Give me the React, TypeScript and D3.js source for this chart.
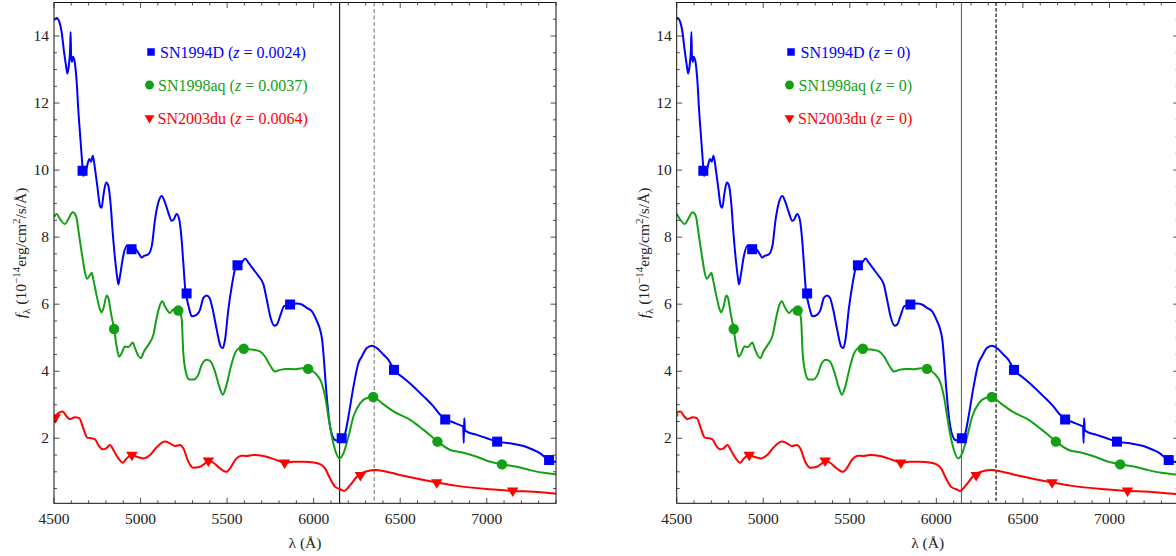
import React from 'react';
import * as d3 from 'd3';

// ---------- spectra (observed wavelength in Å, flux in 1e-14 erg/cm²/s/Å) ----------
const lambda94D = [
  4500, 4515, 4531, 4544, 4558, 4569, 4577, 4586, 4593, 4596, 4599, 4604, 4610, 4621, 4631, 4640,
  4654, 4664, 4669, 4689, 4704, 4714, 4724, 4737, 4750, 4766, 4775, 4785, 4801, 4814, 4828, 4839,
  4853, 4865, 4872, 4880, 4900, 4920, 4948, 4958, 4987, 5007, 5020, 5045, 5065, 5084, 5103, 5122,
  5141, 5160, 5180, 5193, 5208, 5223, 5237, 5247, 5260, 5270, 5282, 5296, 5325, 5344, 5363, 5382,
  5398, 5417, 5440, 5463, 5475, 5488, 5507, 5527, 5546, 5565, 5585, 5604, 5623, 5652, 5681, 5710,
  5729, 5749, 5772, 5787, 5806, 5829, 5864, 5903, 5931, 5960, 5989, 6018, 6037, 6050, 6060, 6070,
  6080, 6095, 6110, 6124, 6145, 6163, 6182, 6201, 6230, 6259, 6278, 6307, 6336, 6365, 6404, 6432,
  6465, 6519, 6577, 6635, 6692, 6731, 6760, 6808, 6856, 6864, 6867, 6870, 6874, 6885, 6943, 7001,
  7062, 7136, 7213, 7271, 7309, 7358, 7396, 7460,
];
const flux94D = [
  14.47, 14.54, 14.42, 14.12, 13.53, 13.13, 12.88, 13.13, 13.6, 14.12, 13.4, 13.23, 13.38, 13.18, 12.63, 11.83,
  10.83, 10.13, 9.83, 10.08, 10.33, 10.25, 10.43, 10.03, 9.53, 8.93, 8.88, 9.23, 9.63, 9.53, 8.93, 8.14,
  7.34, 6.8, 6.59, 6.8, 7.44, 7.74, 7.64, 7.69, 7.54, 7.39, 7.44, 7.49, 7.74, 8.54, 9.04, 9.23,
  9.04, 8.74, 8.49, 8.54, 8.69, 8.54, 7.94, 7.24, 6.35, 6.1, 5.84, 5.64, 5.69, 5.84, 6.19, 6.26,
  6.19, 5.84, 5.24, 4.74, 4.69, 4.94, 5.84, 6.54, 7.04, 7.16, 7.24, 7.36, 7.24, 7.04, 6.84, 6.59,
  6.14, 5.64, 5.36, 5.39, 5.64, 5.94, 5.99, 6.02, 5.99, 5.89, 5.79, 5.5, 5.24, 4.9, 4.3, 3.6,
  3.0, 2.35, 2.05, 1.95, 1.93, 2.0, 2.15, 2.65, 3.54, 4.25, 4.44, 4.69, 4.76, 4.69, 4.49, 4.34,
  4.04, 3.8, 3.54, 3.25, 2.95, 2.7, 2.57, 2.47, 2.37, 2.35, 1.86, 2.6, 2.25, 2.2, 2.1, 2.0,
  1.9, 1.85, 1.77, 1.65, 1.55, 1.35, 1.3, 1.25,
];

const lambda98aq = [
  4500, 4515, 4535, 4564, 4583, 4608, 4627, 4640, 4654, 4666, 4679, 4693, 4704, 4718, 4727, 4747,
  4766, 4775, 4789, 4804, 4814, 4829, 4847, 4862, 4877, 4891, 4910, 4930, 4955, 4968, 4987, 5001,
  5020, 5045, 5074, 5093, 5113, 5126, 5141, 5170, 5189, 5218, 5237, 5247, 5263, 5282, 5305, 5334,
  5353, 5382, 5405, 5430, 5455, 5475, 5494, 5517, 5546, 5575, 5596, 5652, 5690, 5719, 5752, 5777,
  5806, 5844, 5893, 5931, 5968, 6007, 6046, 6066, 6085, 6105, 6124, 6149, 6172, 6201, 6230, 6269,
  6307, 6345, 6394, 6461, 6558, 6635, 6717, 6789, 6866, 6943, 7020, 7091, 7174, 7251, 7328, 7396,
  7460,
];
const flux98aq = [
  8.59, 8.69, 8.54, 8.39, 8.54, 8.74, 8.64, 8.24, 7.74, 7.34, 6.94, 6.76, 6.84, 6.94, 6.74, 6.24,
  5.84, 5.76, 5.94, 6.26, 6.19, 5.74, 5.26, 4.74, 4.43, 4.54, 4.74, 4.72, 4.86, 4.69, 4.46, 4.39,
  4.59, 4.79, 5.09, 5.59, 5.99, 6.09, 5.94, 5.74, 5.84, 5.81, 5.59, 4.54, 3.95, 3.75, 3.75, 3.9,
  4.19, 4.34, 4.29, 3.99, 3.54, 3.3, 3.54, 4.04, 4.54, 4.69, 4.67, 4.64, 4.59, 4.44, 4.14, 3.99,
  4.04, 4.07, 4.06, 4.09, 4.07, 3.95, 3.65, 3.25, 2.65, 2.05, 1.65, 1.4, 1.55, 2.05, 2.65, 3.05,
  3.2, 3.23, 3.05, 2.8, 2.55, 2.25, 1.9, 1.65, 1.57, 1.45, 1.3, 1.22, 1.15, 1.05, 0.97, 0.93,
  0.9,
];

const lambda03du = [
  4480, 4500, 4525, 4550, 4573, 4592, 4621, 4646, 4669, 4692, 4718, 4737, 4756, 4781, 4801, 4824,
  4843, 4872, 4897, 4920, 4949, 4978, 5016, 5055, 5093, 5141, 5170, 5199, 5228, 5247, 5276, 5305,
  5344, 5373, 5392, 5421, 5459, 5494, 5517, 5546, 5585, 5613, 5652, 5710, 5758, 5797, 5835, 5883,
  5941, 5999, 6037, 6066, 6095, 6124, 6153, 6176, 6211, 6249, 6297, 6355, 6422, 6519, 6711, 6827,
  7020, 7155, 7290, 7396, 7460,
];
const flux03du = [
  2.5, 2.6, 2.75, 2.8, 2.65, 2.57, 2.63, 2.6, 2.3, 2.02, 2.0, 1.97, 1.8, 1.67, 1.7, 1.8,
  1.65, 1.4, 1.27, 1.4, 1.5, 1.45, 1.4, 1.5, 1.73, 1.9, 1.85, 1.77, 1.8, 1.7, 1.3, 1.12,
  1.15, 1.25, 1.33, 1.27, 1.1, 1.0, 1.1, 1.35, 1.48, 1.47, 1.5, 1.47, 1.4, 1.33, 1.27, 1.3,
  1.3, 1.28, 1.23, 1.1, 0.8, 0.55, 0.48, 0.43, 0.6, 0.85, 1.0, 1.05, 1.0, 0.88, 0.68, 0.58,
  0.48, 0.43, 0.4, 0.35, 0.33,
];

// plot markers placed along each spectrum
const markLambda94D = [4665, 4948, 5266, 5560, 5864, 6162, 6464, 6760, 7060, 7360];
const markFlux94D = [9.98, 7.64, 6.32, 7.16, 5.99, 2.0, 4.04, 2.56, 1.9, 1.35];
const markLambda98aq = [4847, 5218, 5596, 5968, 6344, 6715, 7088];
const markFlux98aq = [5.26, 5.81, 4.67, 4.07, 3.23, 1.9, 1.22];
const markLambda03du = [4507, 4950, 5392, 5832, 6270, 6711, 7150];
const markFlux03du = [2.62, 1.5, 1.33, 1.27, 0.9, 0.68, 0.44];

const names = ['SN1994D', 'SN1998aq', 'SN2003du'];
const redshifts = [0.0024, 0.0037, 0.0064];
const redshiftLabels = ['0.0024', '0.0037', '0.0064'];
const colors = ['#0000ff', '#14a014', '#ff0000'];
const shapes = ['square', 'circle', 'triangle'];

const xTicks = [4500, 5000, 5500, 6000, 6500, 7000];
const yTicks = [2, 4, 6, 8, 10, 12, 14];
const xDomain = [4500, 7400];
const yDomain = [0.06, 15.0];

// ---------- layout ----------
const W = 1176;
const H = 556;
const PANEL_W = 502;
const TOP = 2.5;
const BOTTOM = 503.3;
const FONT = "'Liberation Serif', 'DejaVu Serif', serif";
const textStyle = { fontFamily: FONT };

type Series = {
  name: string;
  z: number;
  color: string;
  shape: string;
  lam: number[];
  flux: number[];
  mLam: number[];
  mFlux: number[];
};

const series: Series[] = [
  { lam: lambda94D, flux: flux94D, mLam: markLambda94D, mFlux: markFlux94D },
  { lam: lambda98aq, flux: flux98aq, mLam: markLambda98aq, mFlux: markFlux98aq },
  { lam: lambda03du, flux: flux03du, mLam: markLambda03du, mFlux: markFlux03du },
].map((s, i) => ({
  ...s,
  name: names[i],
  z: redshifts[i],
  color: colors[i],
  shape: shapes[i],
}));

function Marker({ shape, x, y, color, size }: { shape: string; x: number; y: number; color: string; size: number }) {
  if (shape === 'square') {
    return <rect x={x - size / 2} y={y - size / 2} width={size} height={size} fill={color} />;
  }
  if (shape === 'circle') {
    return <circle cx={x} cy={y} r={size * 0.52} fill={color} />;
  }
  const w = size * 1.15;
  const h = size * 0.95;
  // downward triangle centred on its centroid
  const p = [
    [x - w / 2, y - h / 3],
    [x + w / 2, y - h / 3],
    [x, y + (2 * h) / 3],
  ];
  return <polygon points={p.map((q) => q.join(',')).join(' ')} fill={color} />;
}

type PanelProps = {
  id: string;
  left: number;
  restFrame: boolean;
  solidLine: { lambda: number; color: string };
  dashedLine: { lambda: number; color: string; dash: string };
  legendX: number;
  legendTextX: number;
};

function Panel({ id, left, restFrame, solidLine, dashedLine, legendX, legendTextX }: PanelProps) {
  const x = d3.scaleLinear().domain(xDomain).range([left, left + PANEL_W]);
  const y = d3.scaleLinear().domain(yDomain).range([BOTTOM, TOP]);
  const right = left + PANEL_W;
  const xMinor = d3.range(4500, 7401, 100);
  const yMinor = d3.range(0.5, 15.01, 0.5);
  const shift = (s: Series) => (restFrame ? 1 / (1 + s.z) : 1);

  const line = d3
    .line<[number, number]>()
    .x((d) => x(d[0]))
    .y((d) => y(d[1]))
    .curve(d3.curveMonotoneX);

  const majorLen = 5.5;
  const minorLen = 3;
  const tickColor = '#222';
  const legendRows = [52, 85, 118];

  return (
    <g>
      <defs>
        <clipPath id={id}>
          <rect x={left} y={TOP} width={PANEL_W} height={BOTTOM - TOP} />
        </clipPath>
      </defs>

      {/* reference wavelengths */}
      <line x1={x(solidLine.lambda)} x2={x(solidLine.lambda)} y1={TOP} y2={BOTTOM} stroke={solidLine.color} strokeWidth={1.1} />
      <line
        x1={x(dashedLine.lambda)}
        x2={x(dashedLine.lambda)}
        y1={TOP}
        y2={BOTTOM}
        stroke={dashedLine.color}
        strokeWidth={1.2}
        strokeDasharray={dashedLine.dash}
      />

      {/* spectra */}
      <g clipPath={`url(#${id})`}>
        {series.map((s) => {
          const k = shift(s);
          const pts = s.lam.map((l, i) => [l * k, s.flux[i]] as [number, number]);
          return <path key={s.name} d={line(pts) || ''} fill="none" stroke={s.color} strokeWidth={2} strokeLinejoin="round" />;
        })}
        {series.map((s) => {
          const k = shift(s);
          return s.mLam.map((l, i) => (
            <Marker key={`${s.name}-${i}`} shape={s.shape} x={x(l * k)} y={y(s.mFlux[i])} color={s.color} size={10} />
          ));
        })}
      </g>

      {/* frame */}
      <rect x={left} y={TOP} width={PANEL_W} height={BOTTOM - TOP} fill="none" stroke="#111" strokeWidth={1} />

      {/* x ticks, bottom and top */}
      {xMinor.map((v) => {
        const major = v % 500 === 0;
        const len = major ? majorLen : minorLen;
        return (
          <g key={`xt${v}`} stroke={tickColor} strokeWidth={0.8}>
            <line x1={x(v)} x2={x(v)} y1={BOTTOM} y2={BOTTOM - len} />
            <line x1={x(v)} x2={x(v)} y1={TOP} y2={TOP + len} />
          </g>
        );
      })}
      {/* y ticks, left and right */}
      {yMinor.map((v) => {
        const major = Math.abs(v % 2) < 1e-6;
        const len = major ? majorLen : minorLen;
        return (
          <g key={`yt${v}`} stroke={tickColor} strokeWidth={0.8}>
            <line x1={left} x2={left + len} y1={y(v)} y2={y(v)} />
            <line x1={right} x2={right - len} y1={y(v)} y2={y(v)} />
          </g>
        );
      })}

      {/* tick labels */}
      {xTicks.map((v) => (
        <text key={`xl${v}`} x={x(v)} y={523.5} textAnchor="middle" style={textStyle} fontSize={15.5} fill="#222">
          {v}
        </text>
      ))}
      {yTicks.map((v) => (
        <text key={`yl${v}`} x={left - 5} y={y(v) + 5.2} textAnchor="end" style={textStyle} fontSize={15.5} fill="#222">
          {v}
        </text>
      ))}

      {/* axis titles */}
      <text x={(left + right) / 2} y={548} textAnchor="middle" style={textStyle} fontSize={15.5} fill="#222">
        λ (Å)
      </text>
      <text
        transform="rotate(-90)"
        x={-(TOP + BOTTOM) / 2}
        y={left - 28}
        textAnchor="middle"
        style={textStyle}
        fontSize={15.5}
        fill="#222"
      >
        <tspan fontStyle="italic">f</tspan>
        <tspan dy={4} fontSize={11}>λ</tspan>
        <tspan dy={-4}> (10</tspan>
        <tspan dy={-6} fontSize={11}>−14</tspan>
        <tspan dy={6}>erg/cm</tspan>
        <tspan dy={-6} fontSize={11}>2</tspan>
        <tspan dy={6}>/s/Å)</tspan>
      </text>

      {/* legend */}
      {series.map((s, i) => (
        <g key={`lg${s.name}`}>
          <Marker shape={s.shape} x={legendX - (i === 0 ? 0 : 1.5)} y={legendRows[i]} color={s.color} size={i === 0 ? 7.5 : 8.5} />
          <text x={legendTextX - (i === 0 ? 0 : 1.5 + i * 0.5)} y={legendRows[i] + 5.5} style={textStyle} fontSize={16} fill={s.color}>
            <tspan>{s.name} (</tspan>
            <tspan fontStyle="italic">z</tspan>
            <tspan> = {restFrame ? '0' : redshiftLabels[i]})</tspan>
          </text>
        </g>
      ))}
    </g>
  );
}

export default function App() {
  return (
    <div style={{ position: 'absolute', left: 0, top: 0, width: W, height: H, background: '#fff' }}>
      <svg width={W} height={H} viewBox={`0 0 ${W} ${H}`} style={{ display: 'block' }}>
        <rect width={W} height={H} fill="#fff" />
        <Panel
          id="clip-observed"
          left={54}
          restFrame={false}
          solidLine={{ lambda: 6150, color: '#111' }}
          dashedLine={{ lambda: 6350, color: '#888', dash: '4,2.5' }}
          legendX={151}
          legendTextX={160}
        />
        <Panel
          id="clip-rest"
          left={676.7}
          restFrame={true}
          solidLine={{ lambda: 6145, color: '#666' }}
          dashedLine={{ lambda: 6345, color: '#111', dash: '3.5,2' }}
          legendX={791}
          legendTextX={800.5}
        />
      </svg>
    </div>
  );
}
